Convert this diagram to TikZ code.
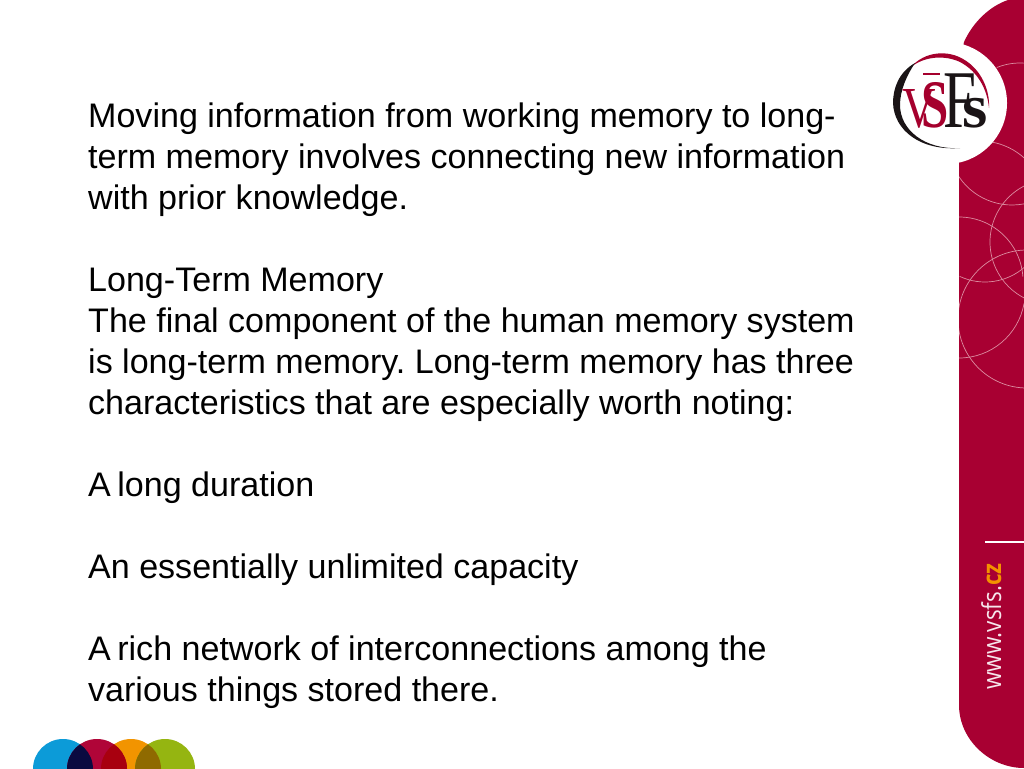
\documentclass[tikz,border=0pt]{standalone}
\usepackage{fontspec}
\setmainfont{Liberation Sans}
\newfontfamily\logofont{Liberation Serif}
\newfontfamily\webfont{Open Sans}
\definecolor{panelred}{HTML}{A80032}
\definecolor{ringpink}{HTML}{DC8CA0}
\definecolor{logored}{HTML}{A5002D}
\definecolor{logoblack}{HTML}{1A1416}
\definecolor{dotblue}{HTML}{0C9BD8}
\definecolor{dotred}{HTML}{B00538}
\definecolor{dotorange}{HTML}{F29400}
\definecolor{dotgreen}{HTML}{95B511}
\definecolor{dotnavy}{HTML}{0A0A40}
\definecolor{dotdeep}{HTML}{A8000F}
\definecolor{dotolive}{HTML}{8F6A00}
\definecolor{webcz}{HTML}{F39200}
\tikzset{
  ringline/.style={ringpink,line width=0.7pt},
  logoletter/.style={inner sep=0,anchor=base west},
}
\begin{document}
\begin{tikzpicture}[x=1pt,y=-1pt]
  \useasboundingbox (0,0) rectangle (1024,768);
  \fill[white] (0,0) rectangle (1024,768);
  % side panel
  \fill[panelred] (1024,0) -- (1008,0) .. controls (990,6) and (973,22) .. (964,42) -- (959,70) -- (959,705)
    .. controls (959,740) and (990,768) .. (1024,768) -- cycle;
  \begin{scope}
    \clip (959,0) rectangle (1024,768);
    \foreach \cx/\cy/\rad/\sa/\ea in {1012/141/64/150/75, 1053/242/63/245/115, 959/281/64/-90/-4, 985/222/60/115/48,
      1027/319/69/270/90, 959/292/66/90/10, 1020/125/62/248/274, 980/207/66/-80/-48}
      \draw[ringline] ({\cx+\rad*cos(\sa)},{\cy+\rad*sin(\sa)}) arc[start angle=\sa,end angle=\ea,radius=\rad];
  \end{scope}
  % logo
  \fill[white] (946,103) circle (61);
  \fill[logored] (911,67) .. controls (925,51) and (948,50) .. (963,59)
    .. controls (981,69) and (990,90) .. (989,108)
    .. controls (987,88) and (977,71) .. (960,62)
    .. controls (945,55) and (925,56) .. (911,67) -- cycle;
  \fill[logoblack] (915,63) .. controls (899,72) and (893,88) .. (893,103)
    .. controls (894,130) and (920,151) .. (960,148)
    .. controls (925,150) and (900,130) .. (900,105)
    .. controls (900,90) and (907,75) .. (915,63) -- cycle;
  \node[logoletter,text=logored,xscale=0.8,font=\logofont\fontsize{58}{58}\selectfont] (logov) at (902,127) {V};
  \node[logoletter,text=logored,xscale=0.72,font=\logofont\bfseries\fontsize{68}{68}\selectfont] (logos) at (921,127) {S};
  \fill[logored] (923,73) rectangle (940,75);
  \node[logoletter,text=logoblack,xscale=0.72,font=\logofont\fontsize{82}{82}\selectfont] (logof) at (943,127) {F};
  \node[logoletter,text=logoblack,xscale=1.05,font=\logofont\bfseries\fontsize{62}{62}\selectfont] (logosb) at (962,127) {s};
  % web address
  \draw[white,line width=2pt] (985,542) -- (1024,542);
  \node[rotate=90,xscale=0.865,anchor=base west,inner sep=0,text=white!90!panelred,font=\webfont\fontsize{26}{26}\selectfont] (webtext) at (1001,690)
    {www.vsfs.\textcolor{webcz}{\bfseries cz}};
  % coloured discs
  \fill[dotblue] (63,769) circle (30);
  \fill[dotorange] (131,769) circle (30);
  \fill[dotred] (97,769) circle (30);
  \fill[dotgreen] (165,769) circle (30);
  \begin{scope}
    \clip (97,769) circle (30);
    \fill[dotnavy] (63,769) circle (30);
    \fill[dotdeep] (131,769) circle (30);
  \end{scope}
  \begin{scope}
    \clip (131,769) circle (30);
    \fill[dotolive] (165,769) circle (30);
  \end{scope}
  % body text
  \node[anchor=north west,inner sep=0,align=left,font=\fontsize{34.05}{41}\selectfont\frenchspacing] (bodytext) at (88,103) {%
    Moving information from working memory to long-\\
    term memory involves connecting new information\\
    with prior knowledge.\\[41pt]
    Long-Term Memory\\
    The final component of the human memory system\\
    is long-term memory. Long-term memory has three\\
    characteristics that are especially worth noting:\\[41pt]
    A\kern-3pt{} long duration\\[41pt]
    An essentially unlimited capacity\\[41pt]
    A\kern-3pt{} rich network of interconnections among the\\
    various things stored there.};
\end{tikzpicture}
\end{document}
